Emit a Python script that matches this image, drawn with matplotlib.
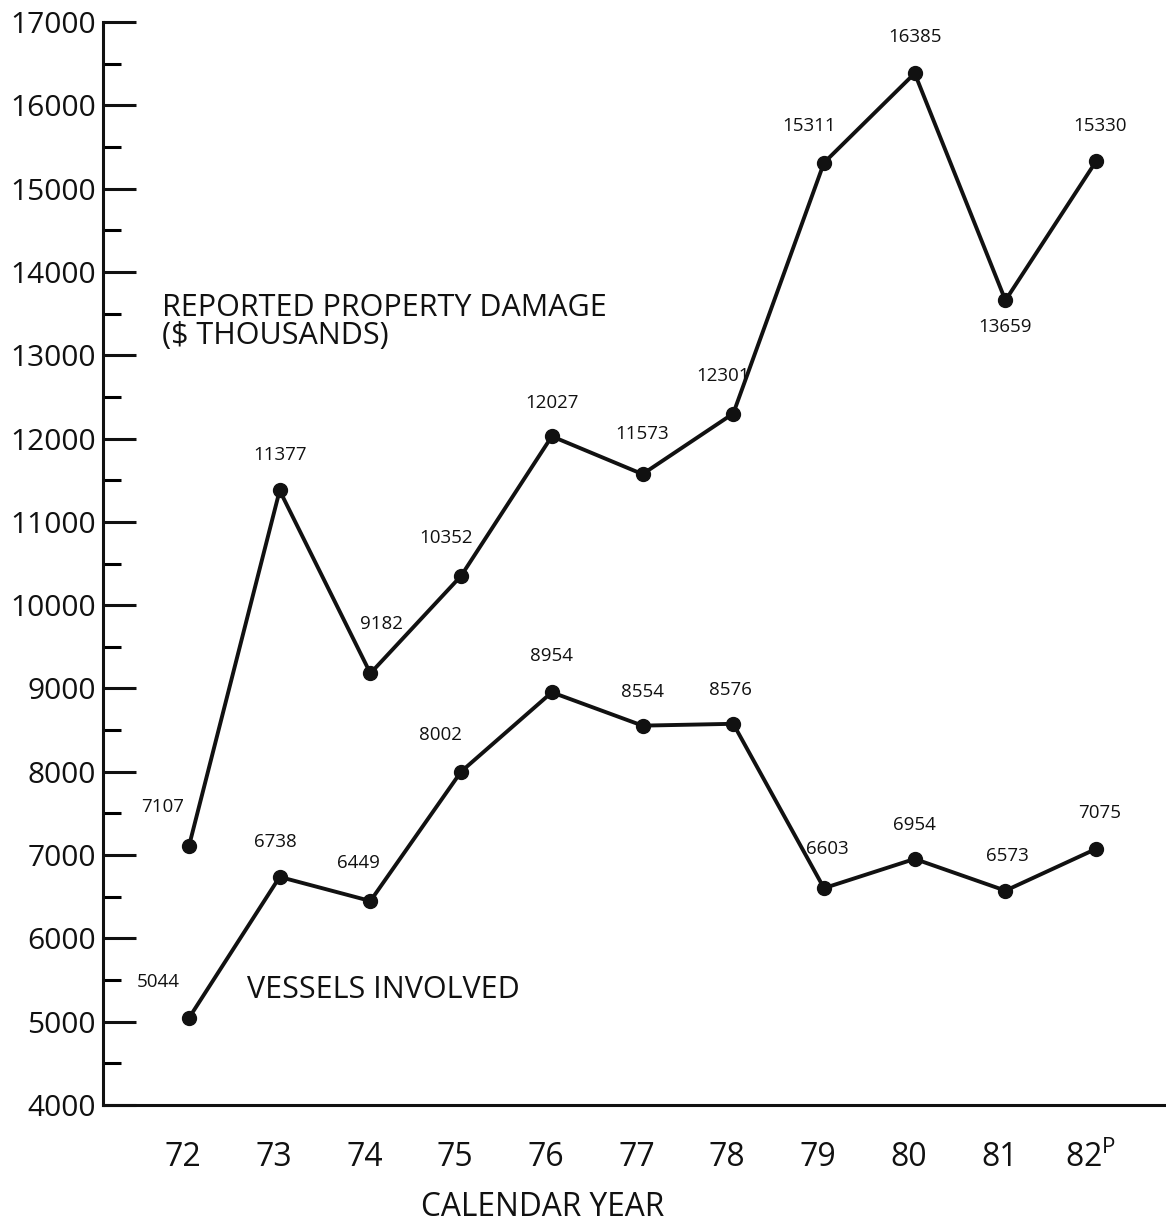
import matplotlib
matplotlib.use("Agg")
import matplotlib.pyplot as plt
import matplotlib.transforms as mtransforms
from matplotlib.ticker import MultipleLocator

plt.rcParams['font.family'] = ['Open Sans', 'DejaVu Sans']
plt.rcParams['mathtext.fontset'] = 'custom'
plt.rcParams['mathtext.rm'] = 'Open Sans'

years = ["72", "73", "74", "75", "76", "77", "78", "79", "80", "81", "$\\mathrm{82}^{\\mathrm{P}}$"]
damage = [7107, 11377, 9182, 10352, 12027, 11573, 12301, 15311, 16385, 13659, 15330]
vessels = [5044, 6738, 6449, 8002, 8954, 8554, 8576, 6603, 6954, 6573, 7075]

# label offsets in pixels (dx, dy)
damage_off = [(-26, 39), (0, 35), (11, 49), (-15, 38), (0, 33), (0, 40), (-10, 38),
              (-15, 37), (0, 36), (0, -27), (4, 35)]
vessels_off = [(-31, 36), (-4, 35), (-12, 38), (-21, 37), (0, 36), (0, 34), (-3, 34),
               (3, 39), (0, 34), (2, 35), (3, 36)]

fig = plt.figure(figsize=(11.66, 12.26), dpi=100)
ax = fig.add_axes([0.0883, 0.0987, 0.9117, 0.8833])
x = list(range(len(years)))

ax.plot(x, damage, color='#111111', lw=2.8, marker='o', ms=10, solid_joinstyle='miter')
ax.plot(x, vessels, color='#111111', lw=2.8, marker='o', ms=10, solid_joinstyle='miter')

for xi, v, (dx, dy) in zip(x, damage, damage_off):
    ax.annotate(str(v), (xi, v), xytext=(dx, dy), textcoords='offset pixels',
                ha='center', va='center', fontsize=13.5, color='#111111')
for xi, v, (dx, dy) in zip(x, vessels, vessels_off):
    ax.annotate(str(v), (xi, v), xytext=(dx, dy), textcoords='offset pixels',
                ha='center', va='center', fontsize=13.5, color='#111111')

ax.text(-0.30, 13400, "REPORTED PROPERTY DAMAGE\n($ THOUSANDS)", fontsize=22,
        ha='left', va='center', linespacing=0.95, color='#111111')
ax.text(0.64, 5380, "VESSELS INVOLVED", fontsize=22, ha='left', va='center', color='#111111')

ax.set_xlim(-0.948, 10.77)
ax.set_ylim(4000, 17000)
ax.yaxis.set_major_locator(MultipleLocator(1000))
ax.yaxis.set_minor_locator(MultipleLocator(500))
ax.tick_params(axis='y', which='major', direction='in', length=24, width=2.2,
               labelsize=21.5, pad=5, colors='#111111')
ax.tick_params(axis='y', which='minor', direction='in', length=13, width=2.2)
ax.set_xticks(x)
ax.set_xticklabels(years)
ax.tick_params(axis='x', length=0, labelsize=23, pad=26, colors='#111111')
shift = mtransforms.ScaledTranslation(-6 / 100, 0, fig.dpi_scale_trans)
for lbl in ax.get_xticklabels():
    lbl.set_transform(lbl.get_transform() + shift)

for s in ['top', 'right']:
    ax.spines[s].set_visible(False)
for s in ['left', 'bottom']:
    ax.spines[s].set_linewidth(2.2)
    ax.spines[s].set_color('#111111')

fig.text(543 / 1166, 1 - 1208 / 1226, "CALENDAR YEAR", fontsize=22.8,
         ha='center', va='center', color='#111111')

fig.savefig("out.png", dpi=100)
